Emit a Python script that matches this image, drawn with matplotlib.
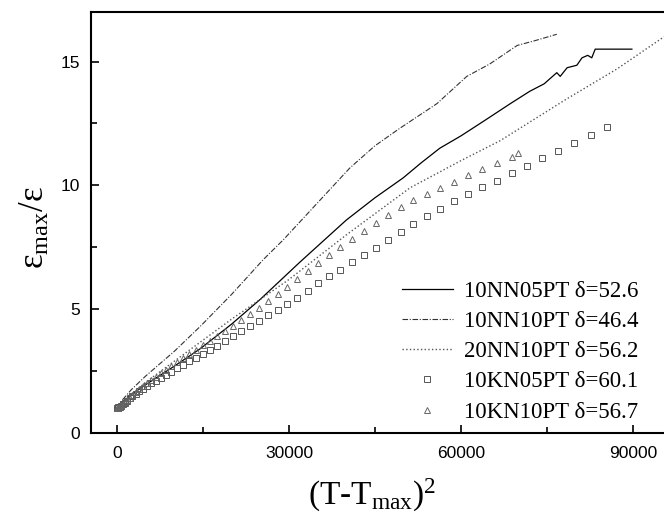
import matplotlib
matplotlib.use('Agg')
import matplotlib.pyplot as plt
from matplotlib.ticker import MultipleLocator

# 10NN05PT (solid)
nn05_x = [0, 1000, 2500, 5000, 10000, 14500, 20000, 25000, 31900, 40000, 45000, 49900,
          53000, 56300, 60000, 64000, 68600, 72000, 74500, 76700, 77300, 78500, 80200,
          81100, 82100, 82800, 83400, 89800]
nn05_y = [1.0, 1.25, 1.55, 1.95, 2.7, 3.4, 4.4, 5.4, 6.9, 8.6, 9.5, 10.3,
          10.9, 11.5, 12.0, 12.6, 13.3, 13.8, 14.1, 14.55, 14.4, 14.75, 14.85,
          15.15, 15.25, 15.15, 15.5, 15.5]

# 10NN10PT (dash-dot)
nn10_x = [0, 1000, 2500, 5000, 10000, 14500, 20000, 25500, 29000, 35000, 40600, 45000,
          49300, 55800, 61000, 65000, 69800, 73000, 76700]
nn10_y = [1.0, 1.35, 1.75, 2.3, 3.3, 4.3, 5.6, 7.0, 7.8, 9.3, 10.7, 11.6,
          12.3, 13.3, 14.4, 14.9, 15.65, 15.85, 16.1]

# 20NN10PT (dotted)
nn20_x = [0, 2500, 5000, 10000, 15000, 20000, 30000, 40000, 51100, 60000, 66800, 78500,
          87200, 95400]
nn20_y = [1.0, 1.55, 2.05, 2.9, 3.75, 4.6, 6.2, 8.0, 9.9, 11.0, 11.8, 13.5,
          14.7, 16.0]

# 10KN05PT (squares)
kn05_x = [0, 100, 250, 450, 700, 1000, 1350, 1750, 2200, 2700, 3250, 3850, 4500, 5200,
          5950, 6750, 7600, 8500, 9450, 10450, 11500, 12600, 13750, 14950, 16200, 17500,
          18850, 20250, 21700, 23200, 24750, 26350, 28000, 29700, 31450, 33250, 35100,
          37000, 38950, 40950, 43000, 45100, 47250, 49450, 51700, 54000, 56350, 58750,
          61200, 63700, 66250, 68850, 71500, 74200, 76950, 79750, 82600, 85500]
kn05_y = [1.00, 1.02, 1.04, 1.07, 1.11, 1.16, 1.22, 1.30, 1.40, 1.50, 1.58, 1.68, 1.79, 1.90,
          2.00, 2.11, 2.23, 2.35, 2.48, 2.61, 2.75, 2.89, 3.04, 3.19, 3.35, 3.52,
          3.70, 3.92, 4.12, 4.32, 4.54, 4.75, 4.97, 5.20, 5.47, 5.75, 6.04,
          6.32, 6.60, 6.89, 7.19, 7.49, 7.80, 8.11, 8.44, 8.75, 9.06, 9.35,
          9.64, 9.92, 10.19, 10.49, 10.79, 11.10, 11.40, 11.73, 12.05, 12.37]

# 10KN10PT (triangles)
kn10_x = [0, 100, 250, 450, 700, 1000, 1350, 1750, 2200, 2700, 3250, 3850, 4500, 5200,
          5950, 6750, 7600, 8500, 9450, 10450, 11500, 12600, 13750, 14950, 16200, 17500,
          18850, 20250, 21700, 23200, 24750, 26350, 28000, 29700, 31450, 33250, 35100,
          37000, 38950, 40950, 43000, 45100, 47250, 49450, 51700, 54000, 56350, 58750,
          61200, 63700, 66250, 68850, 70000]
kn10_y = [1.00, 1.02, 1.04, 1.08, 1.12, 1.17, 1.24, 1.32, 1.43, 1.55, 1.65, 1.76, 1.89, 2.02,
          2.14, 2.27, 2.41, 2.55, 2.70, 2.86, 3.02, 3.19, 3.36, 3.54, 3.72, 3.91,
          4.12, 4.33, 4.56, 4.80, 5.06, 5.33, 5.61, 5.90, 6.21, 6.53, 6.85,
          7.18, 7.52, 7.85, 8.16, 8.48, 8.80, 9.13, 9.40, 9.66, 9.91, 10.15,
          10.40, 10.65, 10.90, 11.16, 11.30]

labels = ['10NN05PT δ=52.6', '10NN10PT δ=46.4', '20NN10PT δ=56.2',
          '10KN05PT δ=60.1', '10KN10PT δ=56.7']

plt.rcParams['font.family'] = ['Liberation Sans', 'DejaVu Sans']
plt.rcParams['mathtext.fontset'] = 'custom'
plt.rcParams['mathtext.rm'] = 'Liberation Serif'
plt.rcParams['mathtext.it'] = 'Liberation Serif'

fig = plt.figure(figsize=(6.64, 5.17), dpi=100)
ax = fig.add_axes([91 / 664, 84 / 517, 1 - 91 / 664, 421 / 517])

ax.plot(nn05_x, nn05_y, '-', color='black', lw=0.9, label=labels[0])
ax.plot(nn10_x, nn10_y, '-.', color='#333333', lw=0.8, dashes=(5, 1.5, 1, 1.5), label=labels[1])
ax.plot(nn20_x, nn20_y, ':', color='#555555', lw=1.0, label=labels[2])
ax.plot(kn05_x, kn05_y, 's', ls='none', ms=4.5, mfc='none', mec='#555555', mew=0.7, label=labels[3])
ax.plot(kn10_x, kn10_y, '^', ls='none', ms=4.5, mfc='none', mec='#666666', mew=0.7, label=labels[4])

ax.set_xlim(-4535, 95400)
ax.set_ylim(0, 17)
ax.xaxis.set_major_locator(MultipleLocator(30000))
ax.xaxis.set_minor_locator(MultipleLocator(15000))
ax.yaxis.set_major_locator(MultipleLocator(5))
ax.yaxis.set_minor_locator(MultipleLocator(2.5))
ax.tick_params(which='both', direction='in', width=1.2, labelsize=12.5, top=False, right=False)
ax.tick_params(which='major', length=6)
ax.tick_params(axis='x', which='major', pad=9)
ax.tick_params(axis='y', which='major', pad=8)
ax.tick_params(which='minor', length=4)
ax.spines['right'].set_visible(False)
for s in ['left', 'top', 'bottom']:
    ax.spines[s].set_linewidth(1.5)

ax.set_xlabel('(T-T$_{\\mathrm{max}}$)$^{2}$', fontfamily='Liberation Serif', fontsize=24)
ax.xaxis.set_label_coords((372 - 91) / 573, -(495 - 433) / 421, transform=ax.transAxes)
ax.xaxis.label.set_va('center')
ax.set_ylabel('ε$_{\\mathrm{max}}$/ε', fontfamily='Liberation Serif', fontsize=25)
ax.yaxis.set_label_coords(-(91 - 35) / 573, (433 - 228) / 421, transform=ax.transAxes)
ax.yaxis.label.set_va('center')

leg = ax.legend(loc='lower right', bbox_to_anchor=(650 / 664, 1 - 434 / 517),
                bbox_transform=fig.transFigure, frameon=False, numpoints=1,
                handlelength=2.2, handletextpad=0.5, labelspacing=0.4, borderpad=0,
                prop={'family': 'Liberation Serif', 'size': 16.5})

fig.savefig('out.png', dpi=100)
